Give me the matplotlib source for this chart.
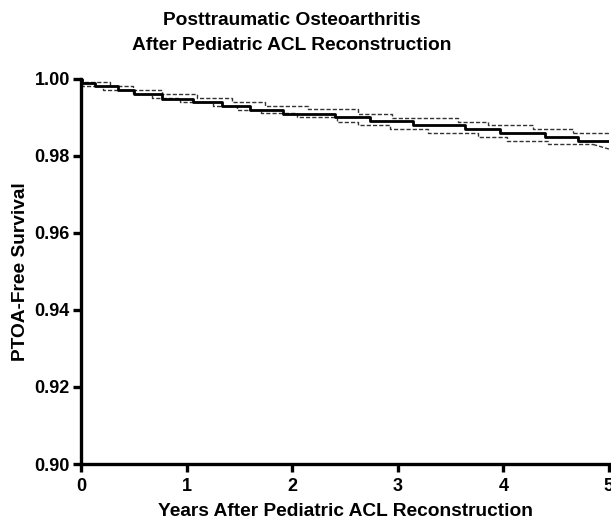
import matplotlib
matplotlib.use('Agg')
import matplotlib.pyplot as plt
import numpy as np

plt.rcParams.update({
    'font.family': ['Liberation Sans', 'DejaVu Sans'],
    'font.weight': 'bold',
})

# Kaplan-Meier estimate (years, survival)
km_t = [0.0, 0.005, 0.13, 0.35, 0.50, 0.77, 1.06, 1.34, 1.60, 1.91, 2.41, 2.74, 3.14, 3.64, 3.97, 4.39, 4.71, 5.0]
km_s = [1.0, 0.9990, 0.9983, 0.9971, 0.9961, 0.9948, 0.9940, 0.9930, 0.9920, 0.9910, 0.9900, 0.9891, 0.9881, 0.9869, 0.9859, 0.9849, 0.9840, 0.9840]

# upper 95% CI
up_t = [0.0, 0.005, 0.275, 0.49, 0.77, 1.10, 1.43, 1.74, 2.15, 2.62, 2.95, 3.57, 3.85, 4.28, 4.66, 5.0]
up_s = [1.0, 0.9991, 0.9982, 0.9971, 0.9960, 0.9951, 0.9940, 0.9930, 0.9921, 0.9909, 0.9899, 0.9888, 0.9880, 0.9869, 0.9859, 0.9859]

# lower 95% CI
lo_t = [0.0, 0.005, 0.21, 0.49, 0.67, 0.94, 1.25, 1.48, 1.70, 2.05, 2.42, 2.62, 2.93, 3.29, 3.76, 4.03, 4.42, 4.85, 5.0]
lo_s = [1.0, 0.9983, 0.9971, 0.9961, 0.9950, 0.9940, 0.9930, 0.9920, 0.9911, 0.9900, 0.9889, 0.9880, 0.9869, 0.9859, 0.9849, 0.9838, 0.9830, 0.9830, 0.9818]

fig = plt.figure(figsize=(6.11, 5.21), dpi=100)
ax = fig.add_axes([0.1326, 0.1094, 0.864, 0.739])

dash = (0, (3, 1.5))
ax.step(km_t, km_s, where='post', color='black', lw=2.0, zorder=3)
ax.step(up_t[:-1], up_s[:-1], where='post', color='#333333', lw=1.0, ls=dash)
ax.plot(up_t[-2:], up_s[-2:], color='#333333', lw=1.0, ls=dash)
ax.step(lo_t[:-1], lo_s[:-1], where='post', color='#333333', lw=1.0, ls=dash)
ax.plot(lo_t[-2:], lo_s[-2:], color='#333333', lw=1.0, ls=dash)

ax.set_xlim(0, 5)
ax.set_ylim(0.90, 1.00)
ax.set_xticks(range(6))
ax.set_yticks(np.arange(0.90, 1.001, 0.02))
ax.yaxis.set_major_formatter(matplotlib.ticker.FormatStrFormatter('%.2f'))

for s in ['top', 'right']:
    ax.spines[s].set_visible(False)
for s in ['left', 'bottom']:
    ax.spines[s].set_linewidth(2.4)
ax.tick_params(width=2.4, length=6, labelsize=13)
ax.tick_params(axis='x', pad=4)
ax.tick_params(axis='y', pad=2)
for lab in ax.get_xticklabels() + ax.get_yticklabels():
    lab.set_fontweight('bold')

ax.set_xlabel('Years After Pediatric ACL Reconstruction', fontsize=13.8, fontweight='bold', labelpad=6)
ax.set_ylabel('PTOA-Free Survival', fontsize=13.8, fontweight='bold', labelpad=4)
fig.text(292 / 611, 1 - 12 / 521, 'Posttraumatic Osteoarthritis\nAfter Pediatric ACL Reconstruction',
         ha='center', va='top', fontsize=13.8, fontweight='bold', linespacing=1.6)

fig.savefig('out.png', dpi=100)
